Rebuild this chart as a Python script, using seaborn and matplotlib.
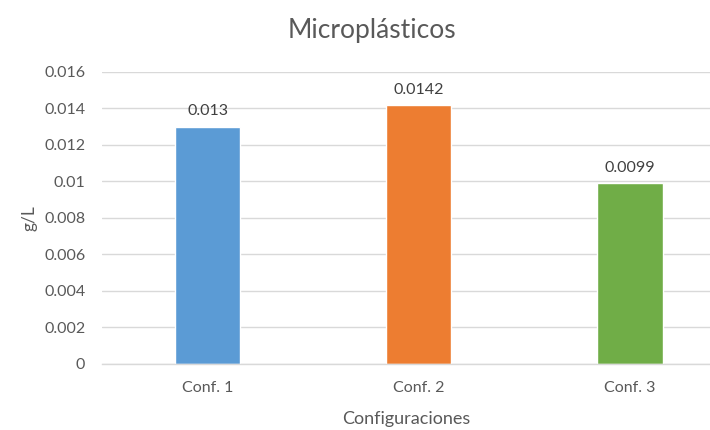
import matplotlib
matplotlib.use("Agg")
import matplotlib.pyplot as plt
import seaborn as sns
import pandas as pd

categories = ["Conf. 1", "Conf. 2", "Conf. 3"]
values = [0.013, 0.0142, 0.0099]
value_labels = ["0.013", "0.0142", "0.0099"]
colors = ["#5B9BD5", "#ED7D31", "#70AD47"]
y_ticks = [0, 0.002, 0.004, 0.006, 0.008, 0.01, 0.012, 0.014, 0.016]
y_tick_labels = ["0", "0.002", "0.004", "0.006", "0.008", "0.01", "0.012", "0.014", "0.016"]

sns.set_style("white")
plt.rcParams["font.family"] = ["Lato", "DejaVu Sans"]

text_color = "#595959"
df = pd.DataFrame({"conf": categories, "val": values})

fig = plt.figure(figsize=(7.1, 4.3), dpi=100)
ax = fig.add_axes([0.1437, 0.1535, 0.8563, 0.6791])

sns.barplot(data=df, x="conf", y="val", hue="conf", palette=colors,
            width=0.31, legend=False, ax=ax, saturation=1)

ax.set_xlim(-0.5, 2.38)
ax.set_ylim(0, 0.016)
ax.set_yticks(y_ticks)
ax.set_yticklabels(y_tick_labels)
ax.yaxis.grid(True, color="#D9D9D9", linewidth=1)
ax.set_axisbelow(True)
for s in ["top", "right", "left"]:
    ax.spines[s].set_visible(False)
ax.spines["bottom"].set_color("#D9D9D9")
ax.spines["bottom"].set_linewidth(1)
ax.tick_params(axis="both", length=0, colors=text_color, labelsize=11.5)
ax.tick_params(axis="y", pad=12)
ax.tick_params(axis="x", pad=12)

for i, (v, lab) in enumerate(zip(values, value_labels)):
    ax.annotate(lab, (i, v), xytext=(0, 6), textcoords="offset points",
                ha="center", va="bottom", fontsize=11.5, color="#404040")

ax.set_xlabel("Configuraciones", fontsize=13, color=text_color, labelpad=12)
ax.set_ylabel("g/L", fontsize=12.5, color=text_color, labelpad=5)

fig.text(0.524, 0.93, "Microplásticos", ha="center", va="center",
         fontsize=19, color=text_color)

fig.savefig("out.png", dpi=100)
